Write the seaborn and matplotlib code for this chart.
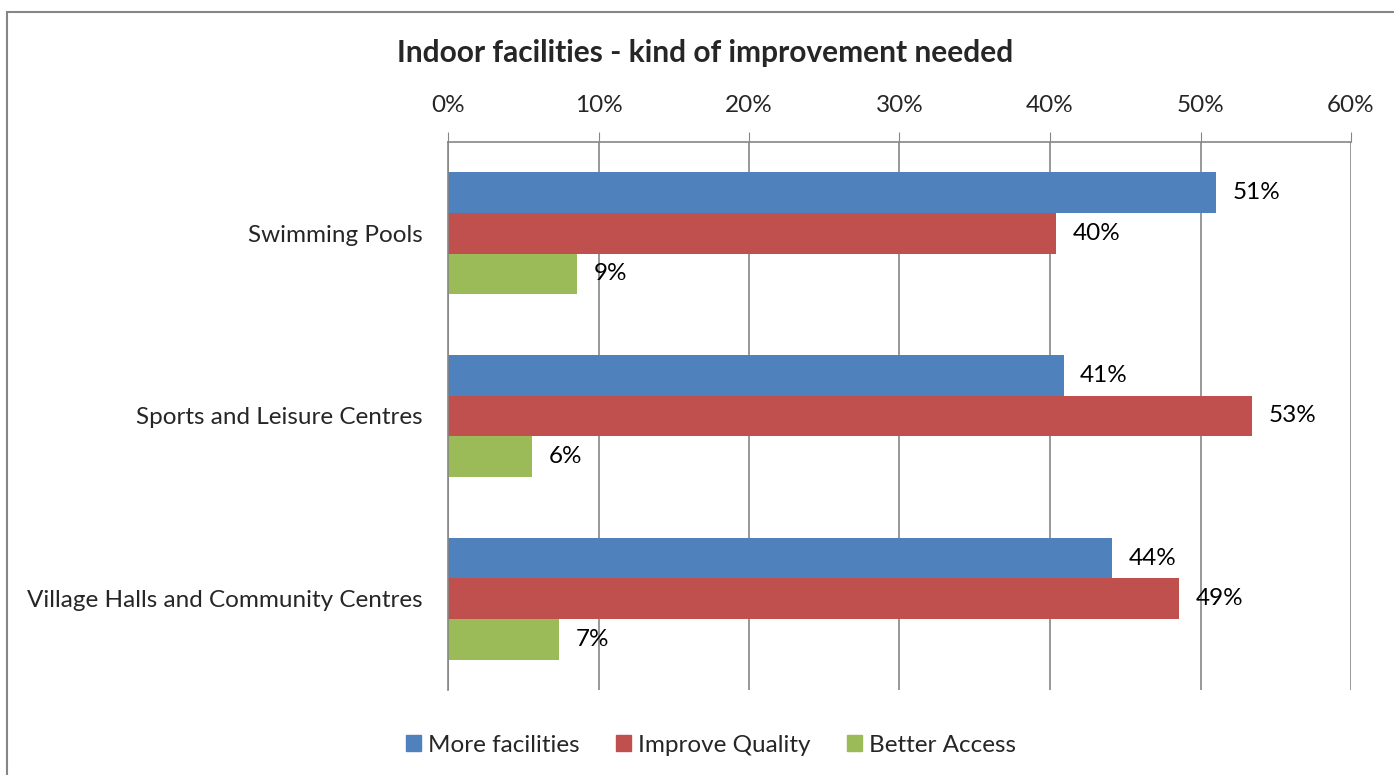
import matplotlib
matplotlib.use("Agg")
import matplotlib.pyplot as plt
from matplotlib.patches import Rectangle
import seaborn as sns
import pandas as pd

categories = ["Swimming Pools", "Sports and Leisure Centres", "Village Halls and Community Centres"]
series = ["More facilities", "Improve Quality", "Better Access"]
more_facilities = [51.0, 40.9, 44.1]
improve_quality = [40.4, 53.4, 48.6]
better_access = [8.6, 5.6, 7.4]
x_ticks = [0, 10, 20, 30, 40, 50, 60]
colors = ["#4F81BD", "#C0504D", "#9BBB59"]

rows = []
for name, vals in zip(series, [more_facilities, improve_quality, better_access]):
    for cat, v in zip(categories, vals):
        rows.append({"category": cat, "series": name, "value": v})
df = pd.DataFrame(rows)

sns.set_style("white")
plt.rcParams["font.family"] = ["Lato", "DejaVu Sans"]
grid_col = "#868686"
fs = 17.5

fig = plt.figure(figsize=(13.94, 7.75), dpi=100)
ax = fig.add_axes([448 / 1394, 1 - 690 / 775, (1351 - 448) / 1394, (690 - 142) / 775])

sns.barplot(data=df, x="value", y="category", hue="series", order=categories,
            hue_order=series, palette=colors, orient="h", width=2 / 3,
            saturation=1, linewidth=0, ax=ax, legend=False)

for cont in ax.containers:
    ax.bar_label(cont, labels=[f"{b.get_width():.0f}%" for b in cont],
                 padding=12, fontsize=fs, color="black")

ax.set_xlim(0, 60)
ax.set_ylim(2.5, -0.5)
ax.set_xticks(x_ticks)
ax.set_xticklabels([f"{t}%" for t in x_ticks], fontsize=fs)
ax.xaxis.tick_top()
ax.tick_params(axis="x", which="major", direction="out", length=7, color=grid_col, pad=12)
ax.grid(axis="x", color=grid_col, linewidth=1.2)
ax.set_axisbelow(True)

ax.set_yticks(range(len(categories)))
ax.set_yticklabels(categories, fontsize=fs)
ax.tick_params(axis="y", which="major", length=0, pad=18)
ax.set_yticks([-0.5, 0.5, 1.5, 2.5], minor=True)
ax.tick_params(axis="y", which="minor", length=8, color=grid_col, width=1.2)
ax.set_xlabel("")
ax.set_ylabel("")

for side in ["right", "bottom"]:
    ax.spines[side].set_visible(False)
for side in ["top", "left"]:
    ax.spines[side].set_color(grid_col)
    ax.spines[side].set_linewidth(1.2)

fig.text(705 / 1394, 1 - 53 / 775, "Indoor facilities - kind of improvement needed",
         ha="center", va="center", fontsize=21.5, fontweight="bold")

handles = [Rectangle((0, 0), 1, 1, color=c) for c in colors]
fig.legend(handles, series, loc="center", bbox_to_anchor=(711 / 1394, 1 - 745 / 775),
           ncol=3, frameon=False, fontsize=fs, handlelength=0.6, handleheight=0.6,
           handletextpad=0.3, columnspacing=1.5)

fig.patches.append(Rectangle((7 / 1394, -0.1), 2, 1.1 - 12 / 775, transform=fig.transFigure,
                             fill=False, edgecolor=grid_col, linewidth=1.5))

fig.savefig("out.png", dpi=100)
